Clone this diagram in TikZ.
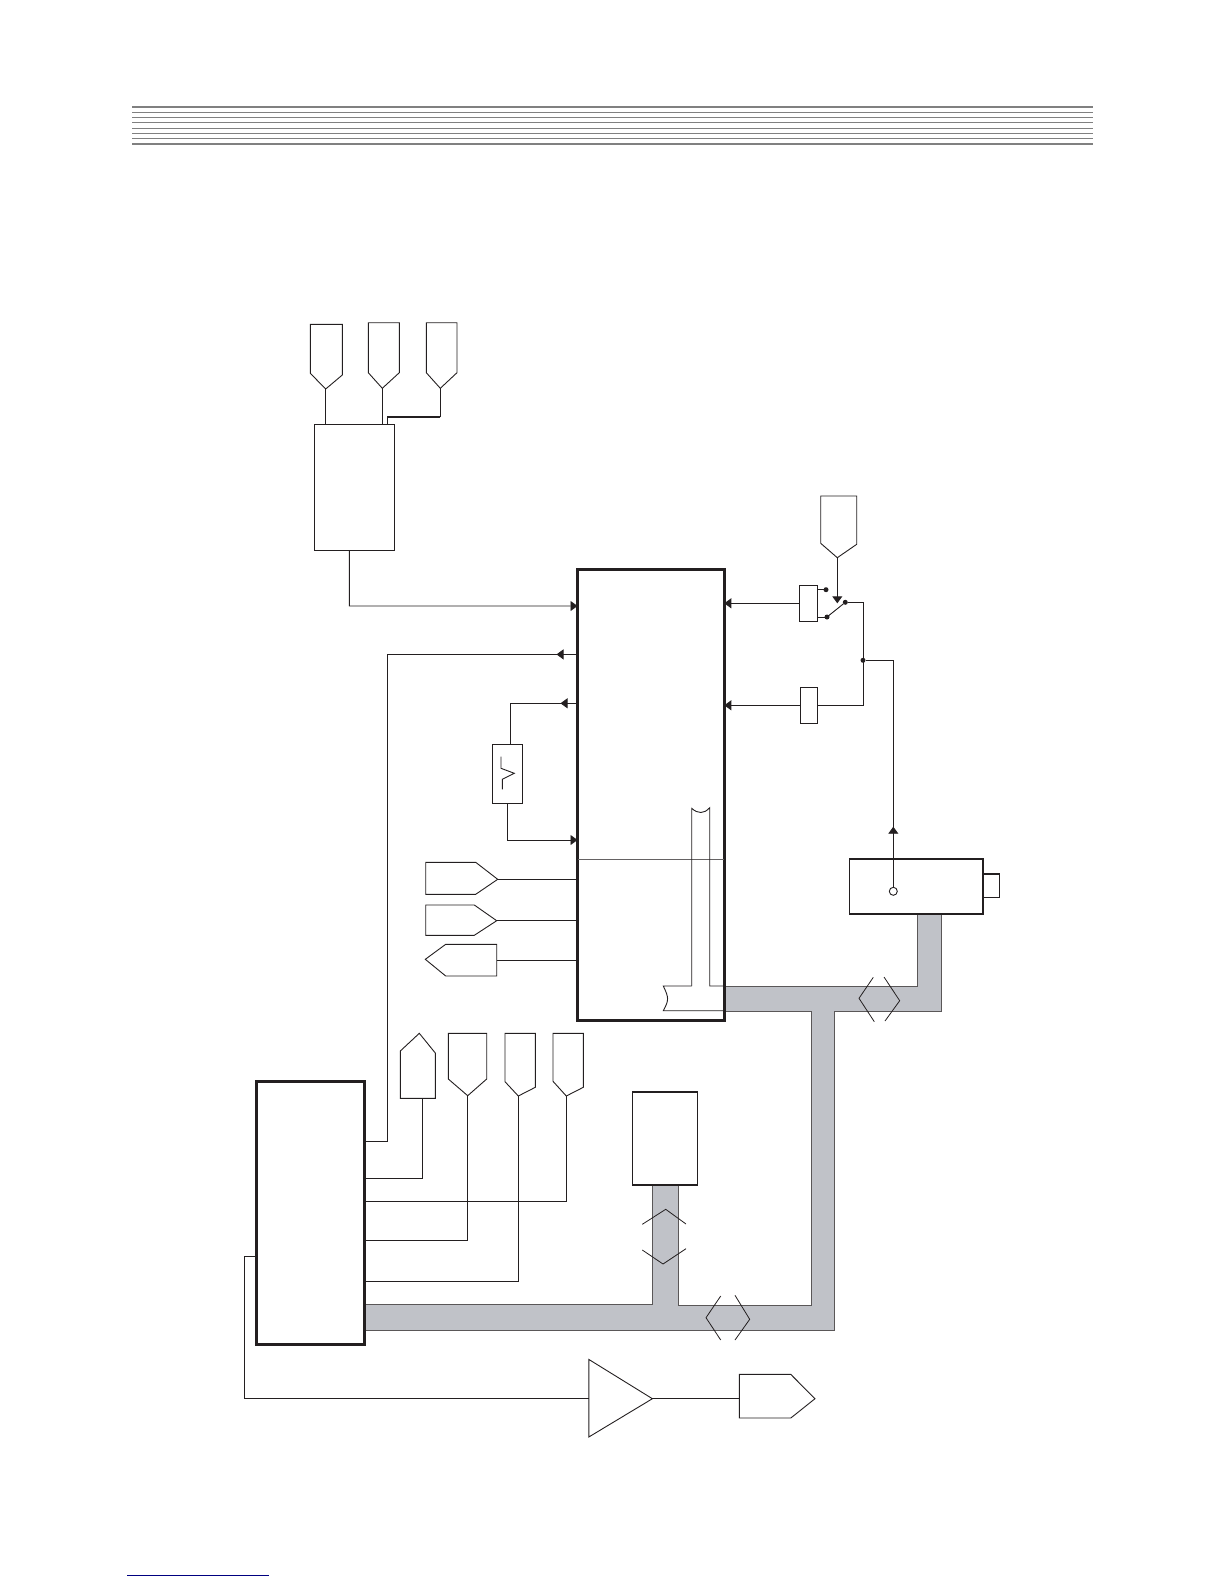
\documentclass[tikz,border=0pt]{standalone}
\usepackage{xcolor}
\usepackage{tikz}
\usetikzlibrary{
  arrows.meta,
  positioning,
  calc
}
\definecolor{busgray}{HTML}{C0C2C8}
\definecolor{inkdark}{HTML}{231F20}
\tikzset{
  wire/.style={draw=inkdark,line width=0.9pt},
  pinline/.style={draw=inkdark,line width=0.9pt,line join=miter},
  rulethin/.style={draw=gray,line width=1pt},
  rulethick/.style={draw=gray,line width=2pt},
  thinbox/.style={draw=inkdark,line width=1pt,fill=white,rectangle,inner sep=0pt,outer sep=0pt},
  heavybox/.style={draw=inkdark,line width=3pt,fill=white,rectangle,inner sep=0pt,outer sep=0pt},
  midbox/.style={draw=inkdark,line width=1.6pt,fill=white,rectangle,inner sep=0pt,outer sep=0pt},
  joint/.style={circle,fill=inkdark,inner sep=0pt,outer sep=0pt,minimum size=5pt},
  tipto/.style={-{Triangle[length=7pt,width=10pt]}},
  chevron/.style={draw=inkdark,line width=0.8pt},
  busline/.style={draw=inkdark!75,line width=0.9pt,fill=busgray}
}
\begin{document}
\begin{tikzpicture}[x=1pt,y=-1pt]
  \useasboundingbox (0,0) rectangle (1224,1584);
  % header rules
  \foreach \ypos in {112.3,117.3,122.3,128.3,133.3,138.3}
    \draw[rulethin] (132,\ypos) -- (1093,\ypos);
  \draw[rulethick] (132,106.7) -- (1093,106.7);
  \draw[rulethick] (132,143.7) -- (1093,143.7);
  \draw[draw=blue!50!black,line width=1pt] (127,1575.3) -- (269,1575.3);

  % bus
  \draw[busline] (724,986) -- (917.3,986) -- (917.3,914) -- (941.3,914) -- (941.3,1011.7)
    -- (834.7,1011.7) -- (834.7,1330) -- (364,1330) -- (364,1304) -- (652.3,1304)
    -- (652.3,1185) -- (678.3,1185) -- (678.3,1305.7) -- (811.3,1305.7) -- (811.3,1011.7)
    -- (724,1011.7) -- cycle;

  % boxes
  \node[thinbox,minimum width=80pt,minimum height=126pt] (tuner) at (354.3,487.35) {};
  \node[heavybox,minimum width=146.8pt,minimum height=450.4pt] (main) at (650.9,794.8) {};
  \node[thinbox,minimum width=30pt,minimum height=59pt] (filt) at (507.3,773.8) {};
  \node[thinbox,minimum width=18.4pt,minimum height=36pt] (swa) at (808.5,603.3) {};
  \node[thinbox,minimum width=17.4pt,minimum height=36pt] (swb) at (809,705.3) {};
  \node[midbox,minimum width=16.6pt,minimum height=23.6pt] (stub) at (991,885.5) {};
  \node[midbox,minimum width=133.4pt,minimum height=55.3pt] (cam) at (916,886.35) {};
  \node[midbox,minimum width=65pt,minimum height=93pt] (mem) at (664.8,1138.5) {};
  \node[heavybox,minimum width=108.3pt,minimum height=262.7pt] (cpu) at (310.15,1212.65) {};

  % top pins
  \draw[pinline] (310.3,324.3) -- (342.3,324.3) -- (342.3,375) -- (325.7,389) coordinate (pinta) -- (310.3,373.3) -- cycle;
  \draw[pinline] (368.3,322.7) -- (399.3,322.7) -- (399.3,372.7) -- (382.3,388.3) coordinate (pintb) -- (368.3,372.7) -- cycle;
  \draw[pinline] (426.3,322.7) -- (457,322.7) -- (457,372.7) -- (440.3,388.3) coordinate (pintc) -- (426.3,372.7) -- cycle;
  \draw[wire] (pinta) -- (pinta |- tuner.north);
  \draw[wire] (pintb) -- (pintb |- tuner.north);
  \draw[wire] (pintc) -- ++(0,28.4) coordinate (bendc);
  \draw[wire,line width=1.6pt] (bendc) -- (387.3,416.7) coordinate (bendd);
  \draw[wire] (bendd) -- (bendd |- tuner.north);

  % tuner to main
  \coordinate (feeda) at (349.4,606);
  \draw[wire,tipto] ([xshift=-4.9pt]tuner.south) -- (feeda) -- (feeda -| main.west);

  % return to cpu
  \coordinate (retn) at (387,654.4);
  \draw[wire] (main.west |- retn) -- (retn) -- (387,1141.7) -- (cpu.east |- 0,1141.7);
  \draw[wire,tipto] (main.west |- retn) -- (556.5,654.4);

  % filter loop
  \coordinate (filta) at (510,703.3);
  \coordinate (filtb) at (507.3,840);
  \draw[wire] (main.west |- filta) -- (filta) -- (filta |- filt.north);
  \draw[wire,tipto] (main.west |- filta) -- (560.5,703.3);
  \draw[wire,tipto] (filt.south) -- (filtb) -- (filtb -| main.west);
  \draw[wire] (501,756.7) -- (501,768.3) -- (514.3,773.3) -- (502.3,779.3) -- (502.3,789.3);

  % left pins
  \draw[pinline] (425.7,862.3) -- (475.7,862.3) -- (497.7,879.3) coordinate (pinla) -- (475.7,894.3) -- (425.7,894.3) -- cycle;
  \draw[pinline] (425.7,905) -- (474.3,905) -- (496.7,920.7) coordinate (pinlb) -- (474.3,935.3) -- (425.7,935.3) -- cycle;
  \draw[pinline] (425.3,959.3) -- (445.7,944.3) -- (496.7,944.3) -- (496.7,976) -- (445.7,976) -- cycle;
  \coordinate (pinlc) at (496.7,960.7);
  \draw[wire] (pinla) -- (pinla -| main.west);
  \draw[wire] (pinlb) -- (pinlb -| main.west);
  \draw[wire] (pinlc) -- (pinlc -| main.west);

  % inside main
  \coordinate (midline) at (650.9,859.7);
  \draw[draw=inkdark!70,line width=0.9pt] (midline -| main.west) -- (midline -| main.east);
  \draw[wire] (691.7,986) -- (691.7,808.3) .. controls (698,814) and (704,814) .. (709.7,807.7) -- (709.7,986) -- (main.east |- 0,986);
  \draw[wire] (691.7,986) -- (663.3,986) .. controls (669,998) and (669,1000) .. (663.3,1010.7) -- (main.east |- 0,1010.7);

  % switch section
  \draw[pinline] (820.7,496) -- (856.7,496) -- (856.7,544.3) -- (837.3,557.7) coordinate (pinsw) -- (820.7,543.3) -- cycle;
  \node[joint] (cona) at (826,589.7) {};
  \node[joint] (conb) at (827,617) {};
  \node[joint] (conc) at (845.3,602.3) {};
  \node[joint] (cond) at (863,660.3) {};
  \draw[wire] (swa.east |- cona) -- (cona);
  \draw[wire] (swa.east |- conb) -- (conb);
  \draw[wire] (conb) -- (conc);
  \draw[wire,tipto] (pinsw) -- (837.3,603.3);
  \draw[wire] (conc) -- (863,602.3) -- (863,705.3) -- (swb.east);
  \draw[wire,tipto] (swa.west) -- (swa.west -| main.east);
  \draw[wire,tipto] (swb.west) -- (swb.west -| main.east);

  % camera output
  \node[draw=inkdark,line width=0.9pt,fill=white,circle,inner sep=0pt,outer sep=0pt,minimum size=8pt] (hole) at (893.3,891.3) {};
  \draw[wire,tipto] (hole) -- (893.3,826.7);
  \draw[wire] (893.3,830) -- (893.3,660.3) -- (cond);

  % bus arrows
  \draw[chevron] (642.3,1224.3) -- (665.7,1209.3) -- (686,1224);
  \draw[chevron] (642.3,1250) -- (663,1264) -- (686,1248.7);
  \draw[chevron] (720.7,1296) -- (706,1317.7) -- (720.7,1340);
  \draw[chevron] (735,1295.3) -- (749.7,1319.3) -- (735,1340);
  \draw[chevron] (873.3,977.3) -- (859,998.3) -- (874.3,1021.7);
  \draw[chevron] (884,977) -- (899.7,1000.7) -- (885,1021);

  % pins over cpu
  \draw[pinline] (400.3,1098.3) -- (400.3,1051) -- (419.3,1033.3) -- (435.3,1053) -- (435.3,1098.3) -- cycle;
  \coordinate (pinca) at (422.3,1098.3);
  \draw[pinline] (448.3,1033.3) -- (486.7,1033.3) -- (486.7,1079) -- (467.7,1095.7) coordinate (pincb) -- (448.3,1079) -- cycle;
  \draw[pinline] (505,1033.3) -- (535.3,1033.3) -- (535.3,1087.3) -- (518.3,1096) coordinate (pincc) -- (505,1081.7) -- cycle;
  \draw[pinline] (553,1033.3) -- (583.3,1033.3) -- (583.3,1087.3) -- (566.3,1096) coordinate (pincd) -- (553,1081.3) -- cycle;
  \draw[wire] (pinca) -- (422.3,1178) -- (cpu.east |- 0,1178);
  \draw[wire] (pincb) -- (467.7,1240.3) -- (cpu.east |- 0,1240.3);
  \draw[wire] (pincc) -- (518.3,1281.7) -- (cpu.east |- 0,1281.7);
  \draw[wire] (pincd) -- (566.3,1201.7) -- (cpu.east |- 0,1201.7);

  % output stage
  \draw[pinline] (588.8,1359.4) -- (652.4,1398.7) coordinate (ampout) -- (588.8,1437) -- cycle;
  \coordinate (ampin) at (588.8,1398.7);
  \draw[pinline] (739.3,1374.4) -- (790.8,1374.4) -- (815,1398.7) -- (790.8,1418) -- (739.3,1418) -- cycle;
  \coordinate (pinout) at (739.3,1398.7);
  \draw[wire] (cpu.west |- 0,1256.3) -- (244.3,1256.3) -- (244.3,1398.7) -- (ampin);
  \draw[wire] (ampout) -- (pinout);
\end{tikzpicture}
\end{document}
